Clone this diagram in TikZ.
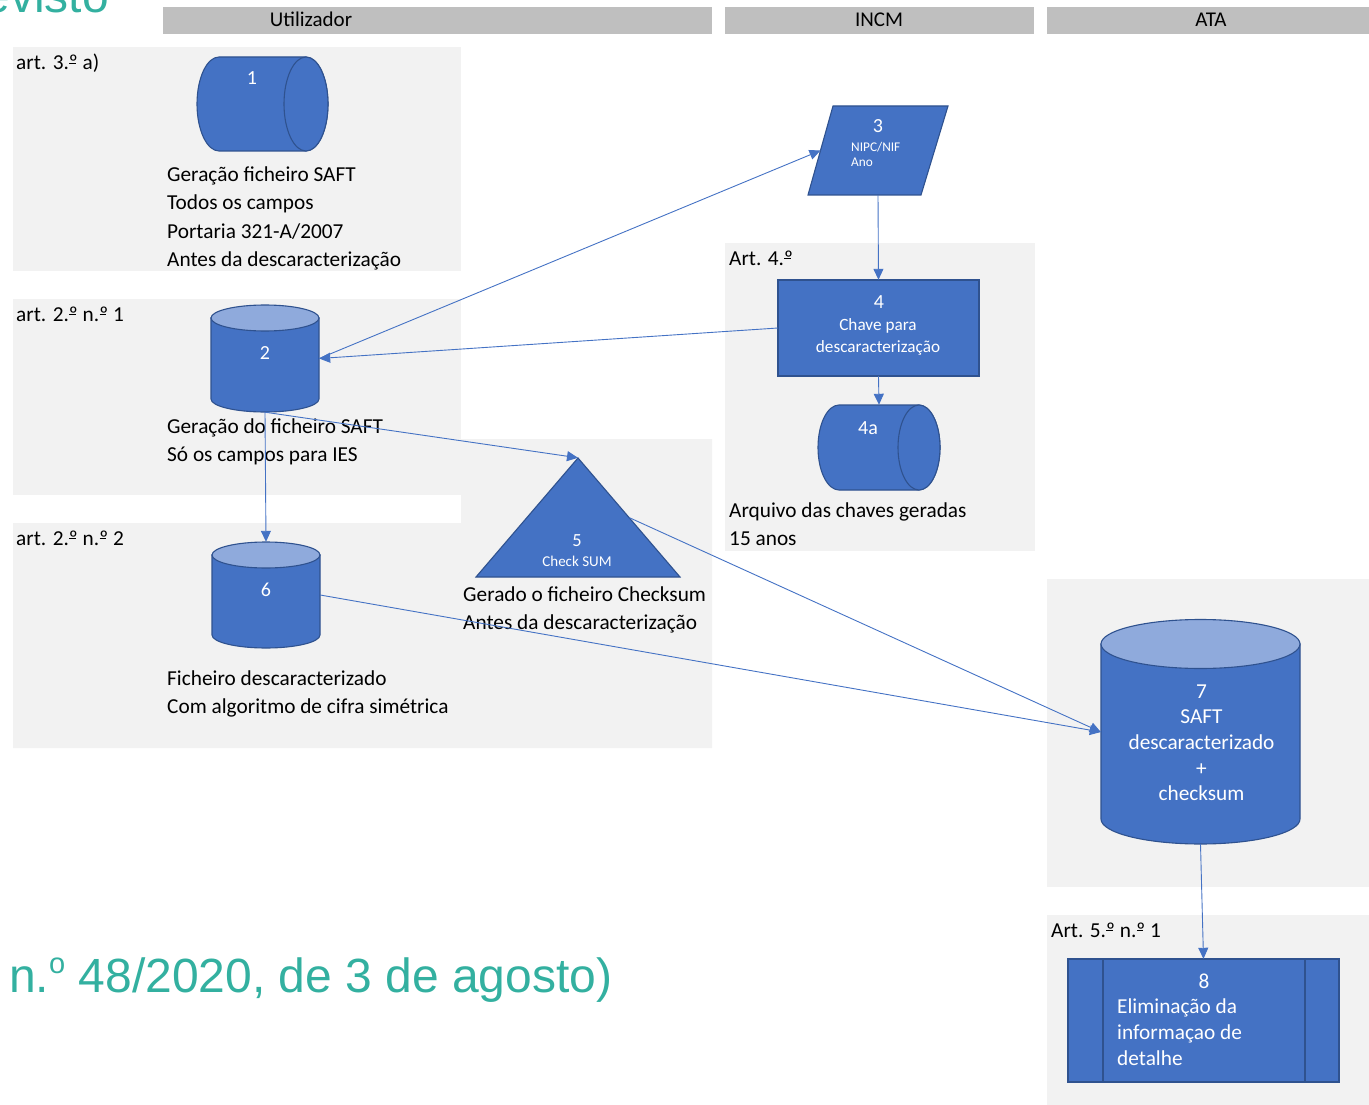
\documentclass[tikz,border=0pt]{standalone}
\usepackage{fontspec}
\setmainfont{Carlito}
\newfontfamily\arialf{Liberation Sans}
\usetikzlibrary{arrows.meta}
\definecolor{blu}{HTML}{4472C4}
\definecolor{bluedge}{HTML}{2F528F}
\definecolor{blutop}{HTML}{8FAADC}
\definecolor{panelgray}{HTML}{F2F2F2}
\definecolor{hdrgray}{HTML}{BFBFBF}
\definecolor{tealc}{HTML}{33B0A0}
\newcommand{\ordm}{\rlap{\hspace{0.02em}\rule[0.30em]{0.30em}{0.045em}}º}
\begin{document}
\begin{tikzpicture}[x=1pt,y=-1pt,
  panel/.style={fill=panelgray,draw=none},
  hdr/.style={fill=hdrgray,draw=none},
  shp/.style={fill=blu,draw=bluedge,line width=1.1pt},
  shptop/.style={fill=blutop,draw=bluedge,line width=1.1pt},
  box/.style={inner sep=0,draw=none,minimum width=#1},
  txt/.style={anchor=base west,inner sep=0,font=\fontsize{21.3}{25}\selectfont},
  hdrtxt/.style={anchor=base,inner sep=0,font=\fontsize{21}{25}\selectfont},
  wnum/.style={anchor=base,inner sep=0,text=white,font=\fontsize{20}{24}\selectfont},
  wtxt/.style={anchor=base,inner sep=0,text=white,font=\fontsize{21.3}{25}\selectfont},
  conn/.style={draw=blu,line width=0.9pt,-{Triangle[length=11pt,width=10pt]}}
]
\useasboundingbox (0,0) rectangle (1369,1105);
\clip (0,0) rectangle (1369,1105);

% header bars
\fill[hdr] (163,7) rectangle (712,34);
\fill[hdr] (725,7) rectangle (1034,34);
\fill[hdr] (1047,7) rectangle (1369,34);
\node[hdrtxt] (hU) at (311,27) {Utilizador};
\node[hdrtxt] (hI) at (879,27) {INCM};
\node[hdrtxt] (hA) at (1211,27) {ATA};

% panels
\fill[panel] (13,47) rectangle (461,271);
\fill[panel] (13,299) rectangle (461,495);
\fill[panel] (13,523) -- (461,523) -- (461,439) -- (712,439) -- (712,748) -- (13,748) -- cycle;
\fill[panel] (725,243) rectangle (1035,551);
\fill[panel] (1047,579) rectangle (1369,887);
\fill[panel] (1047,915) rectangle (1369,1105);

% teal titles
\node[anchor=base west,inner sep=0,text=tealc,font=\arialf\fontsize{48}{50}\selectfont] (tTop) at (-64.7,13) {Previsto};
\node[anchor=base west,inner sep=0,text=tealc,font=\arialf\fontsize{48}{50}\selectfont] (tBot) at (9,992) {n.\raisebox{18.5pt}{\fontsize{29}{30}\selectfont o} 48/2020, de 3 de agosto)};

% ---- shape 1 : horizontal cylinder
\path[shp] (219,57) arc[start angle=270,end angle=90,x radius=22,y radius=47] -- (306,151)
   arc[start angle=90,end angle=-90,x radius=22,y radius=47] -- cycle;
\draw[shp] (306,104) ellipse[x radius=22,y radius=47];
\node[box=131pt,minimum height=94pt] (n1) at (262.5,104) {};
\node[wnum] (n1t) at (252,85) {1};

% ---- shape 2 : vertical cylinder
\path[shp] (211,318) -- (211,399) arc[start angle=180,end angle=0,x radius=54,y radius=13] -- (319,318) -- cycle;
\draw[shptop] (265,318) ellipse[x radius=54,y radius=13];
\node[box=108pt,minimum height=107pt] (n2) at (265,358.5) {};
\node[wnum] (n2t) at (265,359) {2};

% ---- shape 6 : vertical cylinder
\path[shp] (212,555) -- (212,635) arc[start angle=180,end angle=0,x radius=54,y radius=13] -- (320,555) -- cycle;
\draw[shptop] (266,555) ellipse[x radius=54,y radius=13];
\node[box=108pt,minimum height=106pt] (n6) at (266,595) {};
\node[wnum] (n6t) at (266,596) {6};

% ---- shape 3 : parallelogram
\draw[shp] (833,106) -- (948,106) -- (921,195) -- (808,195) -- cycle;
\node[box=140pt,minimum height=89pt] (n3) at (878,150.5) {};
\coordinate (n3w) at (820.5,150.5);
\node[wnum] (n3t) at (878,132.5) {3};
\node[anchor=base west,inner sep=0,text=white,font=\fontsize{13.3}{16}\selectfont] (n3a) at (851,151.5) {NIPC/NIF};
\node[anchor=base west,inner sep=0,text=white,font=\fontsize{13.3}{16}\selectfont] (n3b) at (851,166.5) {Ano};

% ---- shape 4 : rectangle
\draw[shp] (778,280) rectangle (979,376);
\node[box=201pt,minimum height=96pt] (n4) at (878.5,328) {};
\node[wnum] (n4t) at (879,308) {4};
\node[anchor=base,inner sep=0,text=white,font=\fontsize{17.2}{20}\selectfont] (n4a1) at (878,330.5) {Chave para};
\node[anchor=base,inner sep=0,text=white,font=\fontsize{17.2}{20}\selectfont] (n4a2) at (878,352) {descaracterização};

% ---- shape 4a : horizontal cylinder
\path[shp] (839,405) arc[start angle=270,end angle=90,x radius=21,y radius=42.5] -- (919,490)
   arc[start angle=90,end angle=-90,x radius=21,y radius=42.5] -- cycle;
\draw[shp] (919,447.5) ellipse[x radius=21,y radius=42.5];
\node[box=122pt,minimum height=85pt] (n4x) at (879,447.5) {};
\node[wnum] (n4xt) at (868,434) {4a};

% ---- shape 5 : triangle
\draw[shp] (578,458) -- (680,577) -- (476,577) -- cycle;
\node[box=204pt,minimum height=119pt] (n5) at (578,517.5) {};
\coordinate (n5e) at (629,517.5);
\node[anchor=base,inner sep=0,text=white,font=\fontsize{18.5}{22}\selectfont] (n5t) at (577,546.5) {5};
\node[anchor=base,inner sep=0,text=white,font=\fontsize{15}{18}\selectfont] (n5s) at (577,566) {Check SUM};

% ---- shape 7 : big cylinder
\path[shp] (1101,644) -- (1101,819) arc[start angle=180,end angle=0,x radius=99.5,y radius=25] -- (1300,644) -- cycle;
\draw[shptop] (1200.5,644) ellipse[x radius=99.5,y radius=24.5];
\node[box=199pt,minimum height=224pt] (n7) at (1200.5,732) {};
\node[wtxt] (n7a) at (1201.5,698) {7};
\node[wtxt] (n7b) at (1201.5,723.7) {SAFT};
\node[wtxt] (n7c) at (1201.5,749.3) {descaracterizado};
\node[wtxt] (n7d) at (1201.5,775) {+};
\node[wtxt] (n7e) at (1201.5,800.6) {checksum};

% ---- shape 8 : predefined process
\draw[shp] (1068,959) rectangle (1339,1082);
\draw[draw=bluedge,line width=1.1pt] (1103,959) -- (1103,1082);
\draw[draw=bluedge,line width=1.1pt] (1305,959) -- (1305,1082);
\node[box=271pt,minimum height=123pt] (n8) at (1203.5,1020.5) {};
\node[wtxt] (n8a) at (1204,988) {8};
\node[txt,text=white] (n8b) at (1117,1013.3) {Eliminação da};
\node[txt,text=white] (n8c) at (1117,1039.3) {informaçao de};
\node[txt,text=white] (n8d) at (1117,1065) {detalhe};

% ---- labels
\node[txt] (L1) at (16,70) {art. 3.\ordm{} a)};
\node[txt] (L1a) at (167,182) {Geração ficheiro SAFT};
\node[txt] (L1b) at (167,210) {Todos os campos};
\node[txt] (L1c) at (167,238) {Portaria 321-A/2007};
\node[txt] (L1d) at (167,266) {Antes da descaracterização};

\node[txt] (L2) at (16,321) {art. 2.\ordm{} n.\ordm{} 1};
\node[txt] (L2a) at (167,433) {Geração do ficheiro SAFT};
\node[txt] (L2b) at (167,461) {Só os campos para IES};

\node[txt] (L6) at (16,545) {art. 2.\ordm{} n.\ordm{} 2};
\node[txt] (L6a) at (167,685) {Ficheiro descaracterizado};
\node[txt] (L6b) at (167,713) {Com algoritmo de cifra simétrica};

\node[txt] (L5a) at (463,601.5) {Gerado o ficheiro Checksum};
\node[txt] (L5b) at (463,629) {Antes da descaracterização};

\node[txt] (L4) at (729,265) {Art. 4.\ordm};
\node[txt] (L4a) at (729,517.5) {Arquivo das chaves geradas};
\node[txt] (L4b) at (729,545.5) {15 anos};

\node[txt] (L8) at (1051,937) {Art. 5.\ordm{} n.\ordm{} 1};

% ---- connectors
\draw[conn] (n2.east) -- (n3w);
\draw[conn] (n4.west) -- (n2.east);
\draw[conn] (n3.south) -- (n4.north);
\draw[conn] (n4.south) -- (n4x.north);
\draw[conn] (n2.south) -- (n5.north);
\draw[conn] (n2.south) -- (n6.north);
\draw[conn] (n5e) -- (n7.west);
\draw[conn] (n6.east) -- (n7.west);
\draw[conn] (n7.south) -- (n8.north);
\end{tikzpicture}
\end{document}
